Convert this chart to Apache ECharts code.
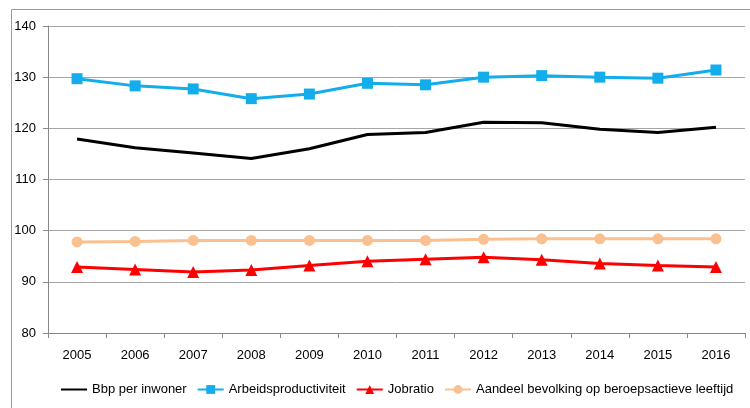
<!DOCTYPE html>
<html>
<head>
<meta charset="utf-8">
<script src="https://cdn.jsdelivr.net/npm/echarts@6/dist/echarts.min.js"></script>
<style>
  html, body { margin: 0; padding: 0; background: #fff; }
  #main { width: 750px; height: 408px; }
</style>
</head>
<body>
<div id="main"></div>
<script>
const years = ['2005', '2006', '2007', '2008', '2009', '2010', '2011', '2012', '2013', '2014', '2015', '2016'];
const bbp = [117.9, 116.2, 115.2, 114.1, 116.0, 118.8, 119.2, 121.2, 121.1, 119.8, 119.2, 120.2];
const arbeid = [129.7, 128.3, 127.7, 125.8, 126.7, 128.8, 128.5, 130.0, 130.3, 130.0, 129.8, 131.4];
const jobratio = [92.9, 92.4, 91.9, 92.3, 93.2, 94.0, 94.4, 94.8, 94.3, 93.6, 93.2, 92.9];
const aandeel = [97.8, 97.9, 98.1, 98.1, 98.1, 98.1, 98.1, 98.3, 98.4, 98.4, 98.4, 98.4];

const font = 'Liberation Sans';
const chart = echarts.init(document.getElementById('main'));

chart.setOption({
  animation: false,
  textStyle: { fontFamily: font },
  graphic: [{
    type: 'rect',
    shape: { x: 11.5, y: 9.5, width: 760, height: 420 },
    style: { fill: 'none', stroke: '#999', lineWidth: 1 }
  }],
  grid: { left: 48, right: 5, top: 26, bottom: 75, containLabel: false },
  legend: {
    top: 383,
    left: 60,
    width: 700,
    itemWidth: 26,
    itemHeight: 11,
    itemGap: 10,
    padding: 0,
    textStyle: { fontSize: 13, color: '#000', fontFamily: font },
    data: [
      { name: 'Bbp per inwoner', itemStyle: { opacity: 0 } },
      'Arbeidsproductiviteit',
      'Jobratio',
      'Aandeel bevolking op beroepsactieve leeftijd'
    ]
  },
  xAxis: {
    type: 'category',
    data: years,
    boundaryGap: true,
    axisLine: { lineStyle: { color: '#888', width: 1 } },
    axisTick: { show: true, alignWithLabel: false, length: 5, lineStyle: { color: '#888' } },
    axisLabel: { color: '#000', fontSize: 13, margin: 16 }
  },
  yAxis: {
    type: 'value',
    min: 80,
    max: 140,
    interval: 10,
    axisLine: { show: true, lineStyle: { color: '#888', width: 1 } },
    axisTick: { show: true, length: 5, lineStyle: { color: '#888' } },
    axisLabel: { color: '#000', fontSize: 13, margin: 12 },
    splitLine: { lineStyle: { color: '#a6a6a6', width: 1 } }
  },
  series: [
    {
      name: 'Bbp per inwoner',
      type: 'line',
      data: bbp,
      symbol: 'none',
      lineStyle: { color: '#000', width: 3 },
      itemStyle: { color: '#000' }
    },
    {
      name: 'Arbeidsproductiviteit',
      type: 'line',
      data: arbeid,
      symbol: 'rect',
      symbolSize: 11,
      lineStyle: { color: '#12adea', width: 3 },
      itemStyle: { color: '#12adea' }
    },
    {
      name: 'Jobratio',
      type: 'line',
      data: jobratio,
      symbol: 'triangle',
      symbolSize: 12,
      lineStyle: { color: '#ff0000', width: 3 },
      itemStyle: { color: '#ff0000' }
    },
    {
      name: 'Aandeel bevolking op beroepsactieve leeftijd',
      type: 'line',
      data: aandeel,
      symbol: 'circle',
      symbolSize: 11,
      lineStyle: { color: '#fac090', width: 3 },
      itemStyle: { color: '#fac090' }
    }
  ]
});
</script>
</body>
</html>
